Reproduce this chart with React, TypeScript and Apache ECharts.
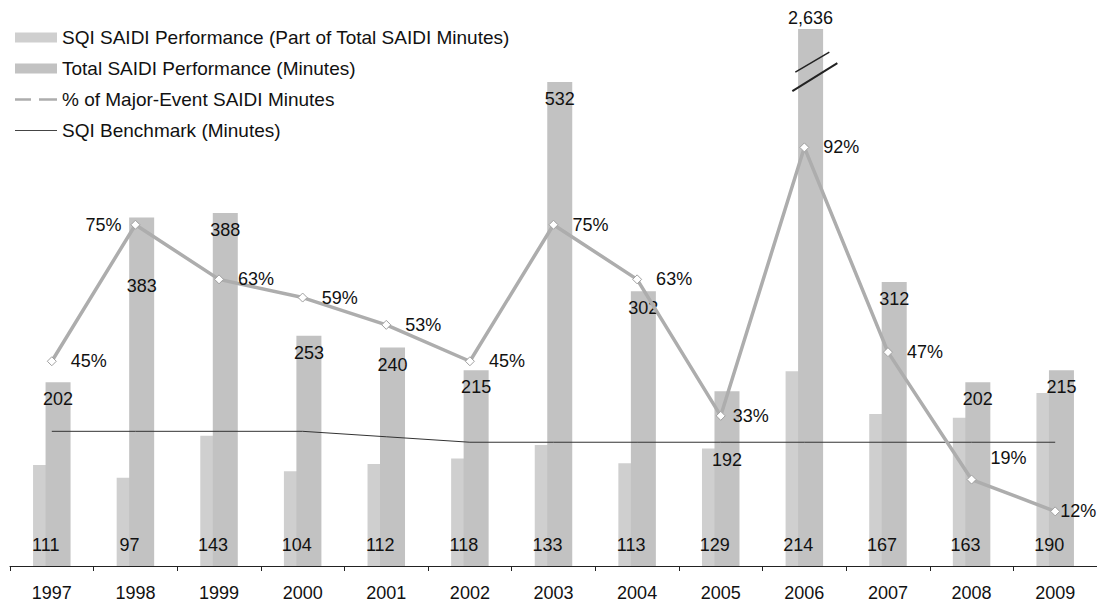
import React, { useEffect, useRef } from "react";
import * as echarts from "echarts";

const years = ["1997", "1998", "1999", "2000", "2001", "2002", "2003", "2004", "2005", "2006", "2007", "2008", "2009"];
const sqiSaidi = [111, 97, 143, 104, 112, 118, 133, 113, 129, 214, 167, 163, 190];
const totalSaidi = [202, 383, 388, 253, 240, 215, 532, 302, 192, 2636, 312, 202, 215];
const majorEventPct = [45, 75, 63, 59, 53, 45, 75, 63, 33, 92, 47, 19, 12];
const sqiBenchmark = [148, 148, 148, 148, 142, 136, 136, 136, 136, 136, 136, 136, 136];

const seriesNames = [
  "SQI SAIDI Performance (Part of Total SAIDI Minutes)",
  "Total SAIDI Performance (Minutes)",
  "% of Major-Event SAIDI Minutes",
  "SQI Benchmark (Minutes)",
];

// visual cap for the broken-axis bar
const BREAK_CAP = 590;
const BREAK_MARK_VALUE = 545;

const FONT = "'Liberation Sans', Arial, sans-serif";

export default function App() {
  const ref = useRef<HTMLDivElement>(null);

  useEffect(() => {
    if (!ref.current) return;
    const chart = echarts.init(ref.current, undefined, { renderer: "svg" });

    const fmt = (v: number) => v.toLocaleString("en-US");

    const totalData = totalSaidi.map((v, i) => {
      const item: any = { value: Math.min(v, BREAK_CAP), realValue: v };
      if (v > BREAK_CAP) {
        item.label = { position: "top", distance: 2 };
      } else if (years[i] === "1998" || years[i] === "2005") {
        item.label = { offset: [0, 52] };
      }
      return item;
    });

    const pctData = majorEventPct.map((v, i) => {
      const item: any = { value: v };
      if (years[i] === "1998") item.label = { position: "left", distance: 9 };
      if (years[i] === "2008") item.label = { offset: [0, -22] };
      if (years[i] === "2009") item.label = { distance: 0 };
      if (years[i] === "2005") item.label = { distance: 7 };
      return item;
    });

    // SQI value labels drawn on top of both bars
    const sqiLabelData = sqiSaidi.map((v, i) => [years[i], 0, v]);

    chart.setOption({
      animation: false,
      backgroundColor: "#ffffff",
      textStyle: { fontFamily: FONT },
      grid: { left: 10, top: 20, width: 1097, height: 546, containLabel: false },
      legend: {
        orient: "vertical",
        left: 15,
        top: 28,
        padding: 0,
        itemWidth: 42,
        itemHeight: 10,
        itemGap: 12,
        textStyle: { fontSize: 19, color: "#111", fontFamily: FONT },
        data: [
          { name: seriesNames[0], icon: "rect", itemStyle: { color: "#cfcfcf" } },
          { name: seriesNames[1], icon: "rect", itemStyle: { color: "#c2c2c2" } },
          {
            name: seriesNames[2],
            icon: "path://M0,4 L16,4 L16,6.5 L0,6.5 Z M24,4 L42,4 L42,6.5 L24,6.5 Z",
            itemStyle: { color: "#adadad", borderWidth: 0 },
          },
          {
            name: seriesNames[3],
            icon: "path://M0,4.5 L42,4.5 L42,5.6 L0,5.6 Z",
            itemStyle: { color: "#444", borderWidth: 0 },
          },
        ],
      },
      xAxis: {
        type: "category",
        data: years,
        boundaryGap: true,
        axisLine: { show: true, lineStyle: { color: "#222", width: 1 } },
        axisTick: { show: true, length: 5, lineStyle: { color: "#222" } },
        axisLabel: { fontSize: 18, color: "#111", margin: 18, fontFamily: FONT },
        splitLine: { show: false },
      },
      yAxis: [
        { type: "value", min: 0, max: 600, show: false, splitLine: { show: false } },
        { type: "value", min: 0, max: 120, show: false, splitLine: { show: false } },
      ],
      series: [
        {
          name: seriesNames[0],
          type: "bar",
          data: sqiSaidi,
          barWidth: 25,
          barGap: "-50%",
          itemStyle: { color: "#cfcfcf" },
          z: 2,
        },
        {
          name: seriesNames[1],
          type: "bar",
          data: totalData,
          barWidth: 25,
          itemStyle: { color: "#c2c2c2" },
          label: {
            show: true,
            position: "insideTop",
            distance: 8,
            fontSize: 18,
            color: "#111",
            fontFamily: FONT,
            formatter: (p: any) => fmt(p.data.realValue),
          },
          z: 3,
        },
        {
          name: seriesNames[2],
          type: "line",
          yAxisIndex: 1,
          data: pctData,
          symbol: "diamond",
          symbolSize: 9,
          lineStyle: { color: "#adadad", width: 3.5 },
          itemStyle: { color: "#ffffff", borderColor: "#a0a0a0", borderWidth: 1 },
          label: {
            show: true,
            position: "right",
            distance: 14,
            fontSize: 18,
            color: "#111",
            fontFamily: FONT,
            formatter: "{c}%",
          },
          z: 5,
        },
        {
          name: seriesNames[3],
          type: "line",
          data: sqiBenchmark,
          symbol: "none",
          lineStyle: { color: "#333", width: 1 },
          z: 4,
        },
        {
          name: "sqi-labels",
          type: "scatter",
          data: sqiLabelData,
          symbolSize: 0,
          silent: true,
          itemStyle: { opacity: 1 },
          label: {
            show: true,
            position: "top",
            distance: 12,
            offset: [-6, 0],
            fontSize: 18,
            color: "#111",
            opacity: 1,
            fontFamily: FONT,
            formatter: (p: any) => String(p.value[2]),
          },
          z: 6,
        },
      ],
    });

    // break marks on the capped bar
    const idx = totalSaidi.findIndex((v) => v > BREAK_CAP);
    if (idx >= 0) {
      const p = chart.convertToPixel({ xAxisIndex: 0, yAxisIndex: 0 }, [years[idx], BREAK_MARK_VALUE]) as number[];
      const cx = p[0] + 6;
      const cy = p[1];
      chart.setOption({
        graphic: [
          {
            type: "line",
            shape: { x1: cx - 15, y1: cy + 2, x2: cx + 19, y2: cy - 18 },
            style: { stroke: "#222", lineWidth: 1.5 },
            z: 11,
          },
          {
            type: "line",
            shape: { x1: cx - 18, y1: cy + 21, x2: cx + 27, y2: cy - 7 },
            style: { stroke: "#222", lineWidth: 2 },
            z: 11,
          },
        ],
      });
    }

    return () => chart.dispose();
  }, []);

  return (
    <div
      ref={ref}
      style={{ position: "fixed", left: 0, top: 0, width: 1097, height: 606, background: "#fff" }}
    />
  );
}
